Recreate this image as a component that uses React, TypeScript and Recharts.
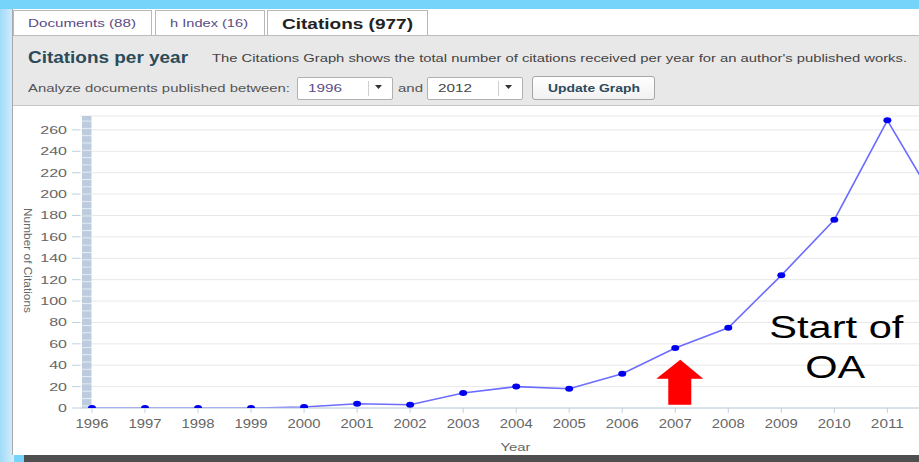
import React from 'react';
import { LineChart, Line, XAxis, YAxis, CartesianGrid, ReferenceArea, ReferenceDot } from 'recharts';

// citations per year (sums to 977)
const years = [1996, 1997, 1998, 1999, 2000, 2001, 2002, 2003, 2004, 2005, 2006, 2007, 2008, 2009, 2010, 2011, 2012];
const citations = [0, 0, 0, 0, 1, 4, 3, 14, 20, 18, 32, 56, 75, 124, 176, 269, 185];
const yTicks = [0, 20, 40, 60, 80, 100, 120, 140, 160, 180, 200, 220, 240, 260];
// the 2012 label sits past the right edge of the screenshot
const xTicks = years.slice(0, 16);

const data = years.map((year, i) => ({ year, citations: citations[i] }));

const FONT = "'Liberation Sans', Arial, sans-serif";

// svg text squeezed/stretched to the width seen in the screenshot
const T = ({ x, y, w, size, color = '#444', bold = false, children }: any) => (
  <text
    x={x}
    y={y}
    fontSize={size}
    fontWeight={bold ? 'bold' : 'normal'}
    fill={color}
    textLength={w}
    lengthAdjust="spacingAndGlyphs"
    fontFamily={FONT}
  >
    {children}
  </text>
);

const XTick = ({ x, y, payload }: any) => (
  <text
    x={x}
    y={y + 13}
    textAnchor="middle"
    fontSize={12}
    fill="#666"
    fontFamily={FONT}
    textLength={33}
    lengthAdjust="spacingAndGlyphs"
  >
    {payload.value}
  </text>
);

const YTick = ({ x, y, payload }: any) => {
  const s = String(payload.value);
  return (
    <text
      x={x}
      y={y + 4}
      textAnchor="end"
      fontSize={10.5}
      fill="#666"
      fontFamily={FONT}
      textLength={s.length * 8.9}
      lengthAdjust="spacingAndGlyphs"
    >
      {s}
    </text>
  );
};

const YLabel = ({ viewBox }: any) => {
  const x = viewBox.x + 7.5;
  const y = viewBox.y + viewBox.height / 2 - 1.5;
  return (
    <text
      x={x}
      y={y}
      dy="0.35em"
      textAnchor="middle"
      fontSize={11}
      fill="#666"
      fontFamily={FONT}
      textLength={105}
      lengthAdjust="spacingAndGlyphs"
      transform={`rotate(90, ${x}, ${y})`}
    >
      Number of Citations
    </text>
  );
};

const XLabel = ({ viewBox }: any) => (
  <text
    x={viewBox.x + viewBox.width / 2}
    y={viewBox.y + viewBox.height + 3}
    textAnchor="middle"
    fontSize={11.5}
    fill="#666"
    fontFamily={FONT}
    textLength={30}
    lengthAdjust="spacingAndGlyphs"
  >
    Year
  </text>
);

const Dot = (p: any) => <ellipse key={p.index} cx={p.cx} cy={p.cy} rx={4} ry={3} fill="#0000ee" />;

const Arrow = ({ cx, cy }: any) => (
  <polygon
    points={`${cx + 5},${cy} ${cx + 28},${cy + 19} ${cx + 16},${cy + 19} ${cx + 16},${cy + 45} ${cx - 7},${cy + 45} ${cx - 7},${cy + 19} ${cx - 19},${cy + 19}`}
    fill="#ff0000"
  />
);

const OaNote = ({ cx, cy }: any) => (
  <g fontFamily={FONT} fill="#000" fontSize={31}>
    <text x={cx + 2} y={cy + 10} textAnchor="middle" textLength={134} lengthAdjust="spacingAndGlyphs">
      Start of
    </text>
    <text x={cx + 1} y={cy + 50} textAnchor="middle" textLength={60} lengthAdjust="spacingAndGlyphs">
      OA
    </text>
  </g>
);

const box = (left: number, top: number, width: number, height: number, style: any = {}) => (
  <div style={{ position: 'absolute', left, top, width, height, boxSizing: 'border-box', ...style }} />
);

export default function App() {
  return (
    <div
      style={{
        position: 'absolute',
        left: 0,
        top: 0,
        width: 919,
        height: 462,
        overflow: 'hidden',
        background: '#76d4fb',
      }}
    >
      {box(0, 9, 14, 453, { background: 'linear-gradient(to right, #9fdbf9, #d8eefc)' })}
      {/* panel */}
      {box(12, 9, 907, 446, { background: '#fff', borderLeft: '1px solid #a8a8a8' })}
      {/* tabs */}
      {box(13, 10, 139, 26, { border: '1px solid #b8b8b8', borderBottom: 'none', background: '#fff' })}
      {box(155, 10, 110, 26, { border: '1px solid #b8b8b8', borderBottom: 'none', background: '#fff' })}
      {box(267, 10, 161, 26, { border: '1px solid #b8b8b8', borderBottom: 'none', background: '#fff' })}
      {/* grey header */}
      {box(13, 35, 906, 71, {
        background: '#e8e8e8',
        borderTop: '1px solid #bcbcbc',
        borderBottom: '1px solid #c6c6c6',
      })}
      {/* selects + button */}
      {box(297, 77, 96, 23, { background: '#fff', border: '1px solid #b0b0b0', borderRadius: 2 })}
      {box(368, 81, 1, 15, { background: '#cfcfcf' })}
      {box(427, 77, 96, 23, { background: '#fff', border: '1px solid #b0b0b0', borderRadius: 2 })}
      {box(498, 81, 1, 15, { background: '#cfcfcf' })}
      {box(532, 76, 123, 24, {
        background: 'linear-gradient(#ffffff, #f1f1f1)',
        border: '1px solid #a6a6a6',
        borderRadius: 3,
      })}
      {/* bottom strip */}
      {box(24, 455, 895, 7, { background: '#4f4f4f' })}

      <svg width={919} height={110} style={{ position: 'absolute', left: 0, top: 0 }}>
        <T x={28} y={26.5} w={108} size={11.5} color="#5a4c85">Documents (88)</T>
        <T x={170} y={26.5} w={78} size={11.5} color="#5a4c85">h Index (16)</T>
        <T x={282} y={28.5} w={131} size={15.5} color="#222" bold>Citations (977)</T>
        <T x={28} y={63} w={160} size={16} color="#2b4b59" bold>Citations per year</T>
        <T x={212} y={62} w={695} size={11.5} color="#444">
          The Citations Graph shows the total number of citations received per year for an author's published works.
        </T>
        <T x={28} y={92} w={262} size={11.5} color="#555">Analyze documents published between:</T>
        <T x={308} y={92} w={34} size={11.5} color="#5a4c85">1996</T>
        <polygon points="375,85 382,85 378.5,89" fill="#333" />
        <T x={398} y={92} w={25} size={11.5} color="#555">and</T>
        <T x={438} y={92} w={34} size={11.5} color="#444">2012</T>
        <polygon points="505,85 512,85 508.5,89" fill="#333" />
        <T x={548} y={92} w={92} size={11.5} color="#2c4a5c" bold>Update Graph</T>
      </svg>

      <div style={{ position: 'absolute', left: 0, top: 106 }}>
        <LineChart width={1000} height={349} data={data} margin={{ top: 10, right: 49, bottom: 7, left: 20 }}>
          <defs>
            <pattern id="scrollHatch" patternUnits="userSpaceOnUse" width={12} height={7.3}>
              <rect width={12} height={7.3} fill="#bccbdd" />
              <rect width={12} height={1} fill="#e6edf5" />
            </pattern>
          </defs>
          <CartesianGrid vertical={false} stroke="#e8e8e8" />
          <XAxis
            dataKey="year"
            type="number"
            domain={[1995.774, 2012.2]}
            ticks={xTicks}
            interval={0}
            allowDataOverflow
            height={40}
            stroke="#c0d0e0"
            tickSize={5}
            tickLine={{ stroke: '#c0d0e0' }}
            tick={<XTick />}
            label={XLabel}
          />
          <YAxis
            type="number"
            domain={[0, 273]}
            ticks={yTicks}
            interval={0}
            allowDataOverflow
            width={60}
            axisLine={false}
            tickSize={8}
            tickMargin={5}
            tickLine={{ stroke: '#c0d0e0' }}
            tick={<YTick />}
            label={YLabel}
          />
          <ReferenceArea
            x1={1995.812}
            x2={1995.99}
            y1={0}
            y2={273}
            fill="url(#scrollHatch)"
            fillOpacity={1}
            stroke="none"
          />
          <Line
            type="linear"
            dataKey="citations"
            stroke="#6c6cff"
            strokeWidth={1.6}
            dot={Dot}
            activeDot={false}
            isAnimationActive={false}
          />
          <ReferenceDot x={2007} y={45} r={0} shape={Arrow} />
          <ReferenceDot x={2010} y={75} r={0} shape={OaNote} />
        </LineChart>
      </div>
    </div>
  );
}
